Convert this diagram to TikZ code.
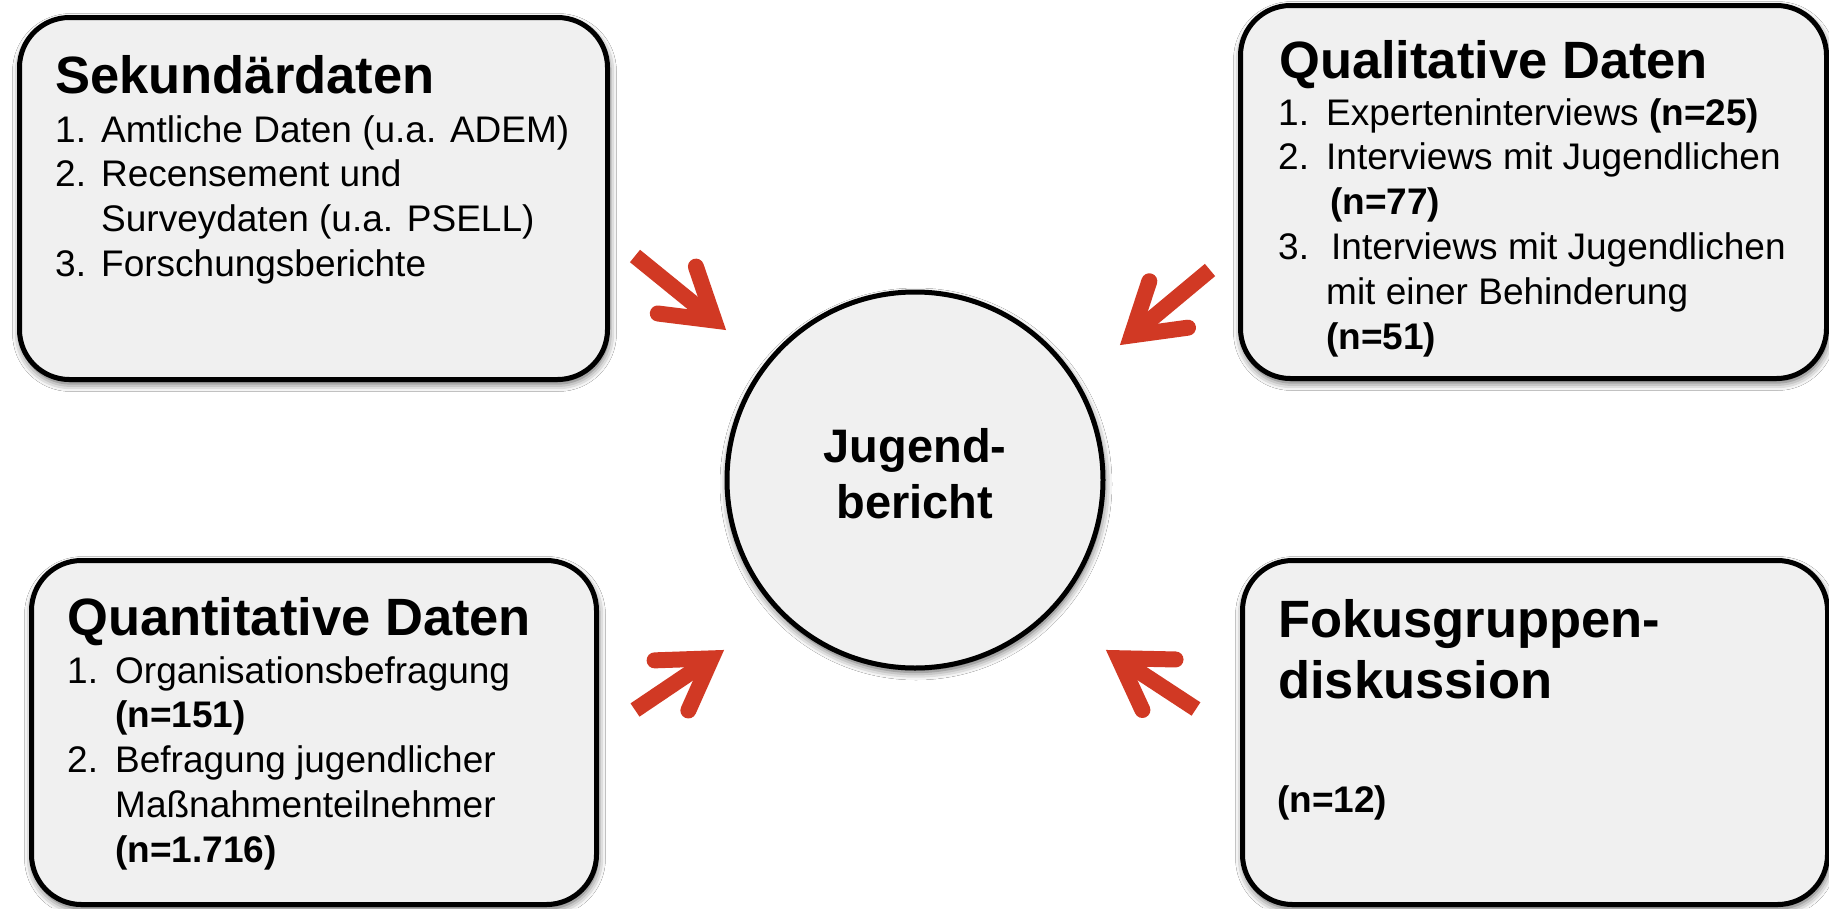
\documentclass[tikz,border=0pt]{standalone}
\usepackage{fontspec}
\setmainfont{Liberation Sans}
\usetikzlibrary{calc,shadows.blur}
\definecolor{boxfill}{HTML}{F0F0F0}
\definecolor{arrowred}{RGB}{209,57,36}
\tikzset{
  softshadow/.style={blur shadow={shadow xshift=1pt, shadow yshift=-4pt, shadow blur radius=8pt, shadow opacity=70}},
  databox/.style={draw=black, line width=5pt, fill=boxfill, rounded corners=50pt, inner sep=0pt, softshadow},
  hub/.style={circle, draw=black, line width=5pt, fill=boxfill, minimum size=376pt, inner sep=0pt, softshadow},
  titletext/.style={anchor=base west, inner sep=0pt, font=\fontsize{52.5}{61}\selectfont\bfseries},
  listtext/.style={anchor=base west, inner sep=0pt, font=\fontsize{37}{44.8}\selectfont},
  hubtext/.style={anchor=base, inner sep=0pt, font=\fontsize{47}{56}\selectfont\bfseries},
  arrowstroke/.style={draw=arrowred, line width=16pt},
}
\newcommand\redarrow[3]{%
  \coordinate (#1c) at ($(#3)!15pt!(#2)$);
  \coordinate (#1l) at ($(#1c)!57pt!32:(#2)$);
  \coordinate (#1r) at ($(#1c)!57pt!-32:(#2)$);
  \draw[arrowstroke, line cap=butt] (#2) -- (#1c);
  \draw[arrowstroke, line cap=round, line join=miter] (#1l) -- (#1c) -- (#1r);
}
\begin{document}
\begin{tikzpicture}[x=1pt, y=-1pt]
\useasboundingbox[fill=white] (0,0) rectangle (1829,908);

% boxes
\node[databox, anchor=north west, minimum width=588pt, minimum height=362pt] (sek) at (17,15) {};
\node[databox, anchor=north west, minimum width=586pt, minimum height=373pt] (qual) at (1238,3) {};
\node[databox, anchor=north west, minimum width=565pt, minimum height=344pt] (quant) at (29,558) {};
\node[databox, anchor=north west, minimum width=585pt, minimum height=344pt] (fokus) at (1240,558) {};

% hub
\node[hub] (hub) at (915,480) {};
\node[hubtext] (hubt) at (915,462) {\begin{tabular}[t]{@{}c@{}}Jugend-\\bericht\end{tabular}};

% texts box 1
\node[titletext] (sekT) at (55,93) {Sekundärdaten};
\node[listtext] (sekL) at (55,142) {\begin{tabular}[t]{@{}l@{}}
\makebox[46pt][l]{1.}Amtliche Daten (u.a. ADEM)\\
\makebox[46pt][l]{2.}Recensement und\\
\hspace*{46pt}Surveydaten (u.a. PSELL)\\
\makebox[46pt][l]{3.}Forschungsberichte
\end{tabular}};

% texts box 2
\node[titletext] (qualT) at (1279,78) {Qualitative Daten};
\node[listtext] (qualL) at (1278,125) {\begin{tabular}[t]{@{}l@{}}
\makebox[48pt][l]{1.}Experteninterviews \textbf{(n=25)}\\
\makebox[48pt][l]{2.}Interviews mit Jugendlichen\\
\hspace*{52pt}\textbf{(n=77)}\\
\makebox[53pt][l]{3.}Interviews mit Jugendlichen\\
\hspace*{48pt}mit einer Behinderung\\
\hspace*{48pt}\textbf{(n=51)}
\end{tabular}};

% texts box 3
\node[titletext] (quantT) at (67,635) {Quantitative Daten};
\node[listtext] (quantL) at (67,683) {\begin{tabular}[t]{@{}l@{}}
\makebox[48pt][l]{1.}Organisationsbefragung\\
\hspace*{48pt}\textbf{(n=151)}\\
\makebox[48pt][l]{2.}Befragung jugendlicher\\
\hspace*{48pt}Maßnahmenteilnehmer\\
\hspace*{48pt}\textbf{(n=1.716)}
\end{tabular}};

% texts box 4
\node[titletext] (fokusT) at (1278,637) {\begin{tabular}[t]{@{}l@{}}Fokusgruppen-\\diskussion\end{tabular}};
\node[listtext, font=\fontsize{37}{44.8}\selectfont\bfseries] (fokusN) at (1277,812) {(n=12)};

% arrows
\coordinate (a1tail) at (635,256);  \coordinate (a1tip) at (726,330);
\coordinate (a2tail) at (1210,270); \coordinate (a2tip) at (1120,345);
\coordinate (a3tail) at (635,710);  \coordinate (a3tip) at (724,650);
\coordinate (a4tail) at (1196,709); \coordinate (a4tip) at (1106,650);
\redarrow{a1}{a1tail}{a1tip}
\redarrow{a2}{a2tail}{a2tip}
\redarrow{a3}{a3tail}{a3tip}
\redarrow{a4}{a4tail}{a4tip}
\end{tikzpicture}
\end{document}
